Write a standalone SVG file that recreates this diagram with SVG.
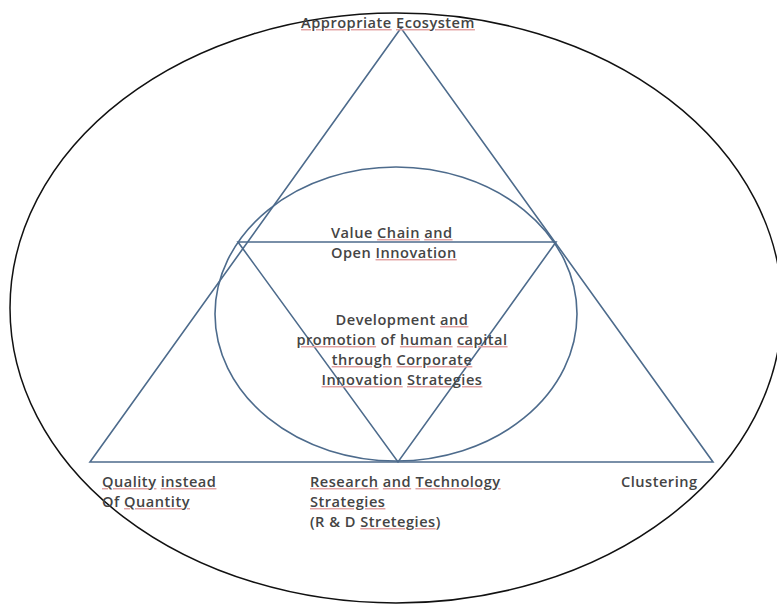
<svg xmlns="http://www.w3.org/2000/svg" width="777" height="605" viewBox="0 0 777 605">
<style>
.blue{fill:none;stroke:#4d6b8c;stroke-width:1.6}
.black{fill:none;stroke:#111;stroke-width:1.5}
text{font-family:"Open Sans","Liberation Sans",sans-serif;font-size:14.6px;font-weight:600;letter-spacing:0.5px;fill:#444444}
.u{text-decoration:underline;fill:#e2a3a3}
.w{fill:#444444}
</style>
<rect width="777" height="605" fill="#ffffff"/>
<g id="connectors">
<ellipse id="outer" class="black" cx="396" cy="308" rx="386" ry="295"/>
<polygon id="big-triangle" class="blue" points="401,28 90,462 713,462"/>
<ellipse id="inner" class="blue" cx="396" cy="314" rx="181" ry="147"/>
<polygon id="inv-triangle" class="blue" points="238,242 556,242 398,462"/>
</g>
<g id="top"><text x="388" y="28" text-anchor="middle"><tspan class="u"><tspan class="w">Appropriate</tspan></tspan> <tspan class="u"><tspan class="w">Ecosystem</tspan></tspan></text></g>
<g id="value"><text x="331" y="238">Value <tspan class="u"><tspan class="w">Chain</tspan></tspan> <tspan class="u"><tspan class="w">and</tspan></tspan></text><text x="331" y="258">Open <tspan class="u"><tspan class="w">Innovation</tspan></tspan></text></g>
<g id="center"><text x="402" y="325" text-anchor="middle">Development <tspan class="u"><tspan class="w">and</tspan></tspan></text><text x="402" y="345" text-anchor="middle"><tspan class="u"><tspan class="w">promotion</tspan></tspan> of <tspan class="u"><tspan class="w">human</tspan></tspan> <tspan class="u"><tspan class="w">capital</tspan></tspan></text><text x="402" y="365" text-anchor="middle"><tspan class="u"><tspan class="w">through</tspan></tspan> <tspan class="u"><tspan class="w">Corporate</tspan></tspan></text><text x="402" y="385" text-anchor="middle"><tspan class="u"><tspan class="w">Innovation</tspan></tspan> <tspan class="u"><tspan class="w">Strategies</tspan></tspan></text></g>
<g id="quality"><text x="102" y="487"><tspan class="u"><tspan class="w">Quality</tspan></tspan> <tspan class="u"><tspan class="w">instead</tspan></tspan></text><text x="102" y="507">Of <tspan class="u"><tspan class="w">Quantity</tspan></tspan></text></g>
<g id="research"><text x="310" y="487"><tspan class="u"><tspan class="w">Research</tspan></tspan> <tspan class="u"><tspan class="w">and</tspan></tspan> <tspan class="u"><tspan class="w">Technology</tspan></tspan></text><text x="310" y="507"><tspan class="u"><tspan class="w">Strategies</tspan></tspan></text><text x="310" y="527">(R &amp; D <tspan class="u"><tspan class="w">Stretegies</tspan></tspan>)</text></g>
<g id="clustering"><text x="621" y="487">Clustering</text></g>
</svg>
